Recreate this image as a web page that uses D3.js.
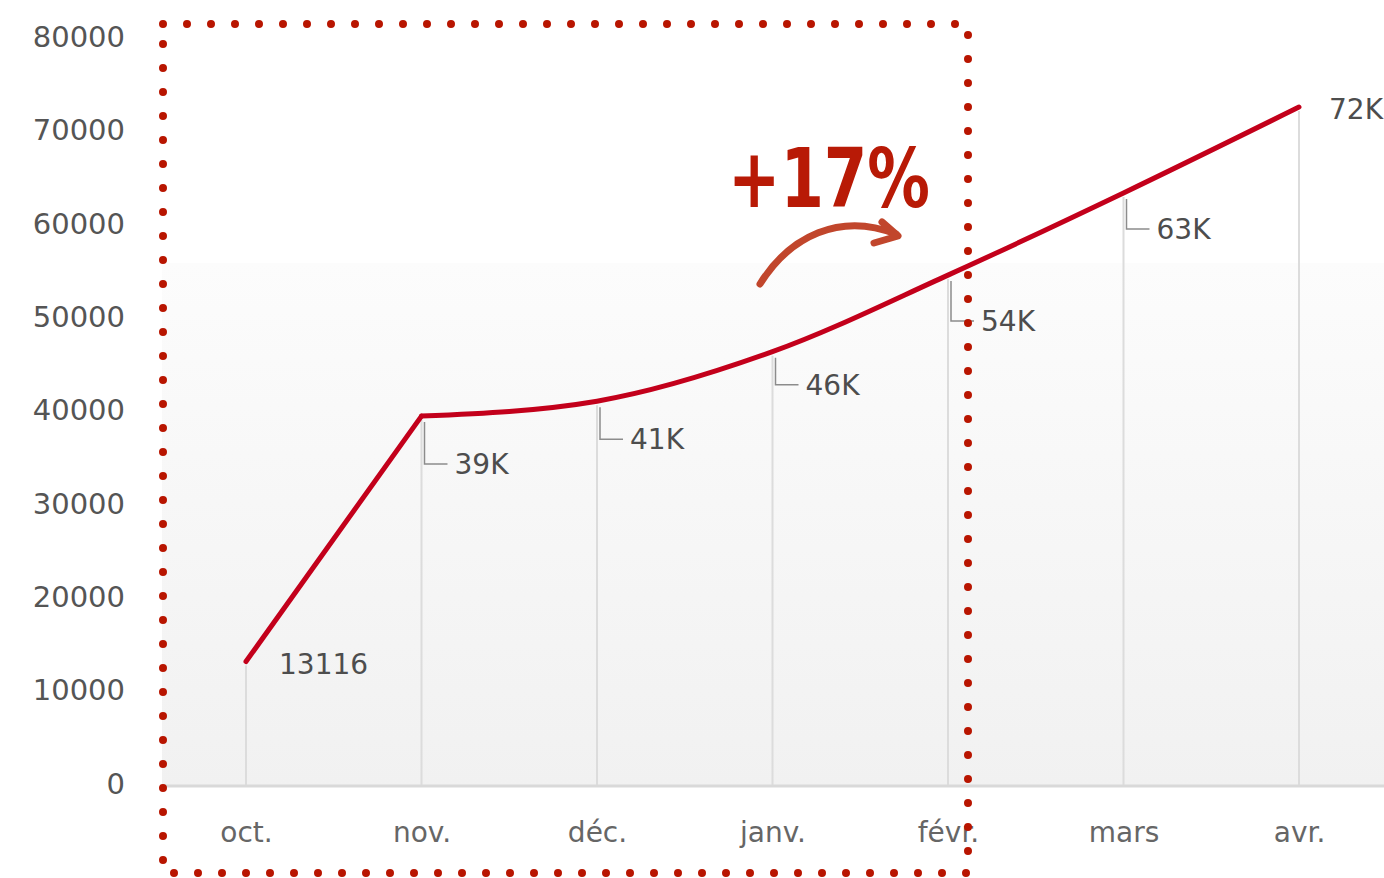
<!DOCTYPE html>
<html>
<head>
<meta charset="utf-8">
<script src="https://cdn.jsdelivr.net/npm/d3@7/dist/d3.min.js"></script>
<style>
  html, body { margin: 0; padding: 0; background: #fff; }
  svg { display: block; }
  text { font-family: "DejaVu Sans", Verdana, sans-serif; }
</style>
</head>
<body>
<svg id="chart" width="1384" height="878"></svg>
<script>
// ---- data ----
const months = ["oct.", "nov.", "déc.", "janv.", "févr.", "mars", "avr."];
const values = [13116, 39400, 41000, 46300, 54500, 63300, 72500];
const valueLabels = ["13116", "39K", "41K", "46K", "54K", "63K", "72K"];
const yTicks = [0, 10000, 20000, 30000, 40000, 50000, 60000, 70000, 80000];
const annotationText = "+17%";

// ---- layout ----
const W = 1384, H = 878;
const plotLeft = 160, plotRight = 1384;
const svg = d3.select("#chart");

const x = d3.scalePoint().domain(months).range([246, 1299]);
const y = d3.scaleLinear().domain([0, 80000]).range([784, 37]);

// background gradient
const defs = svg.append("defs");
const grad = defs.append("linearGradient").attr("id", "bg").attr("x1", 0).attr("y1", 0).attr("x2", 0).attr("y2", 1);
grad.append("stop").attr("offset", "0%").attr("stop-color", "#fcfcfc");
grad.append("stop").attr("offset", "100%").attr("stop-color", "#f1f1f1");
svg.append("rect").attr("x", plotLeft + 2).attr("y", 263)
  .attr("width", plotRight - plotLeft).attr("height", 786 - 263)
  .attr("fill", "url(#bg)");

// y axis labels
const yAxis = d3.axisLeft(y).tickValues(yTicks).tickSize(0).tickPadding(0).tickFormat(d3.format("d"));
const gy = svg.append("g").attr("transform", "translate(125,0)").call(yAxis);
gy.select(".domain").remove();
gy.selectAll("text").attr("font-size", 29).attr("fill", "#555")
  .attr("font-family", "'DejaVu Sans', sans-serif");

// vertical drop lines
svg.append("g").selectAll("line").data(values).join("line")
  .attr("x1", (d, i) => x(months[i])).attr("x2", (d, i) => x(months[i]))
  .attr("y1", d => y(d) + 4).attr("y2", 786)
  .attr("stroke", "#dcdcdc").attr("stroke-width", 2);

// x axis
const xAxis = d3.axisBottom(x).tickSize(0).tickPadding(0);
const gx = svg.append("g").attr("transform", "translate(0,786)").call(xAxis);
gx.select(".domain").remove();
gx.selectAll("text").attr("font-size", 28).attr("fill", "#666").attr("y", 46).attr("dy", "0.36em")
  .attr("font-family", "'DejaVu Sans', sans-serif");
svg.append("line").attr("x1", plotLeft).attr("x2", plotRight).attr("y1", 786).attr("y2", 786)
  .attr("stroke", "#d9d9d9").attr("stroke-width", 3);

// line: straight first segment, gently smoothed afterwards
const pts = values.map((v, i) => ({ m: months[i], v }));
const lineLin = d3.line().x(d => x(d.m)).y(d => y(d.v)).curve(d3.curveLinear);
const lineSmooth = d3.line().x(d => x(d.m)).y(d => y(d.v)).curve(d3.curveMonotoneX);
const lineG = svg.append("g").attr("fill", "none").attr("stroke", "#c3001b")
  .attr("stroke-width", 5).attr("stroke-linejoin", "round").attr("stroke-linecap", "round");
lineG.append("path").attr("d", lineLin(pts.slice(0, 2)));
lineG.append("path").attr("d", lineSmooth(pts.slice(1)));

// data labels with leaders
const labelDy = [0, 48, 38, 33, 46, 36, 0];
const labelDx = [33, 33, 33, 33, 33, 33, 30];
const hasLeader = [false, true, true, true, true, true, false];
const lg = svg.append("g");
values.forEach((v, i) => {
  const px = x(months[i]), py = y(v);
  if (hasLeader[i]) {
    const ly = py + labelDy[i];
    lg.append("path")
      .attr("d", `M${px + 3},${py + 6} V${ly} H${px + 26}`)
      .attr("fill", "none").attr("stroke", "#8c8c8c").attr("stroke-width", 1.5);
    lg.append("text").attr("x", px + labelDx[i]).attr("y", ly).attr("dy", "0.36em")
      .attr("font-size", 28).attr("fill", "#4d4d4d").text(valueLabels[i]);
  } else {
    lg.append("text").attr("x", px + labelDx[i]).attr("y", py + 2).attr("dy", "0.36em")
      .attr("font-size", 28).attr("fill", "#4d4d4d").text(valueLabels[i]);
  }
});

// dotted rectangle
svg.append("rect").attr("x", 163).attr("y", 24).attr("width", 968 - 163).attr("height", 873 - 24)
  .attr("fill", "none").attr("stroke", "#b81500").attr("stroke-width", 8)
  .attr("stroke-linecap", "round").attr("stroke-dasharray", "0 24");

// annotation
svg.append("text").attr("x", 728).attr("y", 207)
  .attr("font-family", "'Open Sans', sans-serif").attr("font-weight", 800)
  .attr("font-size", 82).attr("textLength", 202).attr("lengthAdjust", "spacingAndGlyphs")
  .attr("fill", "#b81a06").text(annotationText);

svg.append("path").attr("d", "M760,284 C790,236 840,212 896,234")
  .attr("fill", "none").attr("stroke", "#c1462c").attr("stroke-width", 7).attr("stroke-linecap", "round");
svg.append("path").attr("d", "M882,222 L898,236 L874,243")
  .attr("fill", "none").attr("stroke", "#c1462c").attr("stroke-width", 7)
  .attr("stroke-linecap", "round").attr("stroke-linejoin", "round");
</script>
</body>
</html>
